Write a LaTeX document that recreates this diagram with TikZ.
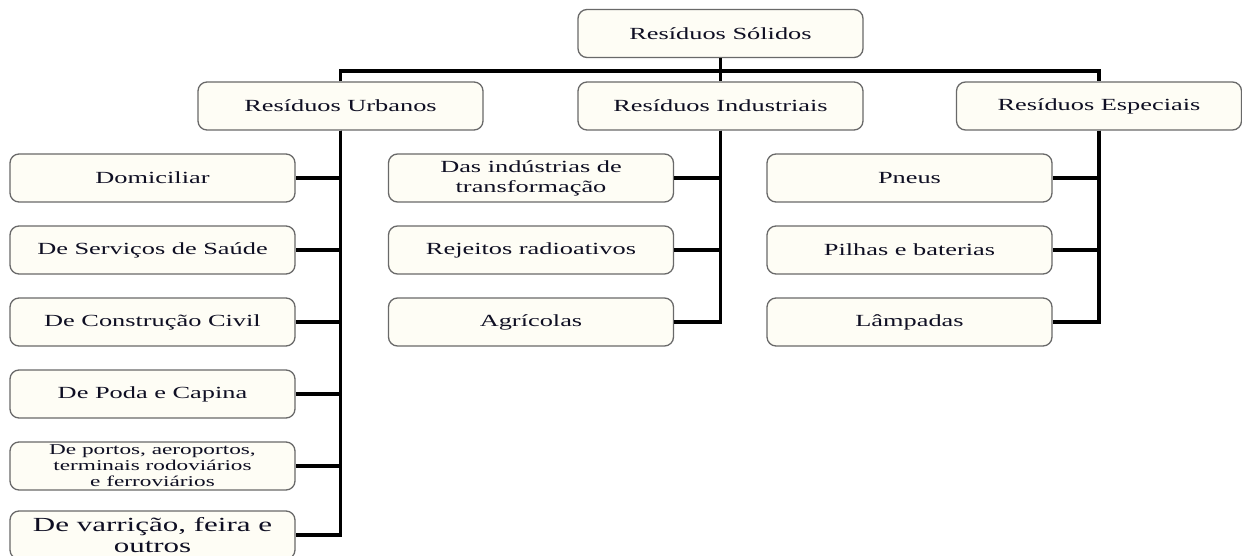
\documentclass[tikz,border=0pt]{standalone}
\usepackage{fontspec}
\setmainfont{Liberation Serif}[FakeStretch=1.55]
\usepackage{tikz}
\definecolor{boxfill}{RGB}{254,253,245}
\definecolor{boxline}{RGB}{105,105,105}
\definecolor{ink}{RGB}{15,15,35}

\begin{document}
\begin{tikzpicture}[x=1pt,y=-1pt]
\tikzstyle{box}=[draw=boxline,fill=boxfill,text=ink,rounded corners=9pt,line width=1.3pt,minimum width=285pt,minimum height=48pt,inner sep=0pt,align=center,font=\fontsize{17}{20}\selectfont];
\tikzstyle{small}=[font=\fontsize{15}{16}\selectfont];
\tikzstyle{big}=[font=\fontsize{20}{21}\selectfont];
\tikzstyle{link}=[line width=3.1pt];
\clip (0,0) rectangle (1242,556);

\node [box] (r0) at (720.5,33.5) {Resíduos Sólidos};
\node [box] (u0) at (340.5,106) {Resíduos Urbanos};
\node [box] (i0) at (720.5,106) {Resíduos Industriais};
\node [box] (e0) at (1099,106) {Resíduos Especiais};
\coordinate (bus) at (720.5,71);

\node [box] (u1) at (152.5,178) {Domiciliar};
\node [box] (u2) at (152.5,250) {De Serviços de Saúde};
\node [box] (u3) at (152.5,322) {De Construção Civil};
\node [box] (u4) at (152.5,394) {De Poda e Capina};
\node [box,small] (u5) at (152.5,466) {De portos, aeroportos,\\terminais rodoviários\\e ferroviários};
\node [box,big] (u6) at (152.5,535) {De varrição, feira e\\outros};

\node [box] (i1) at (531,178) {Das indústrias de\\transformação};
\node [box] (i2) at (531,250) {Rejeitos radioativos};
\node [box] (i3) at (531,322) {Agrícolas};

\node [box] (e1) at (909.5,178) {Pneus};
\node [box] (e2) at (909.5,250) {Pilhas e baterias};
\node [box] (e3) at (909.5,322) {Lâmpadas};

\draw [link] (r0.south) -- (i0.north);
\draw [link] (u0.north) |- (bus) -| (e0.north);

\draw [link] (u0.south) |- (u1.east);
\draw [link] (u0.south) |- (u2.east);
\draw [link] (u0.south) |- (u3.east);
\draw [link] (u0.south) |- (u4.east);
\draw [link] (u0.south) |- (u5.east);
\draw [link] (u0.south) |- (u6.east);

\draw [link] (i0.south) |- (i1.east);
\draw [link] (i0.south) |- (i2.east);
\draw [link] (i0.south) |- (i3.east);

\draw [link] (e0.south) |- (e1.east);
\draw [link] (e0.south) |- (e2.east);
\draw [link] (e0.south) |- (e3.east);
\end{tikzpicture}
\end{document}
